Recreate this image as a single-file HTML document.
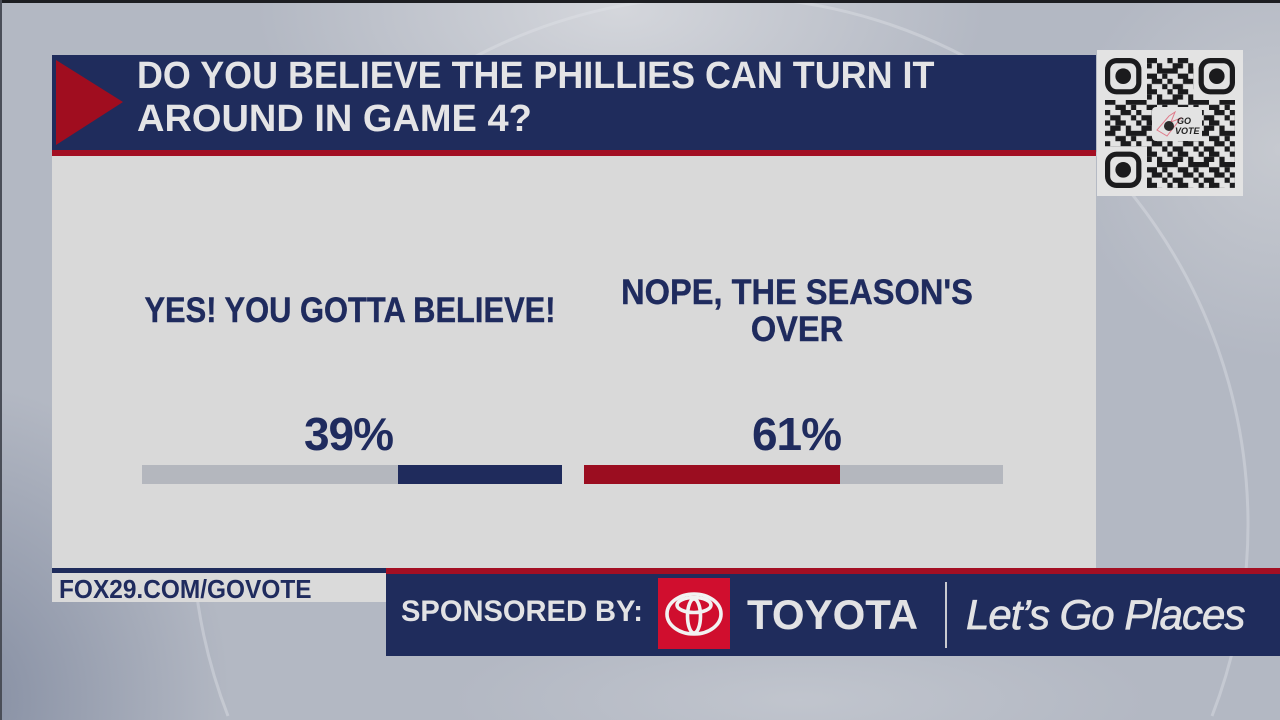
<!DOCTYPE html>
<html><head><meta charset="utf-8">
<style>
*{margin:0;padding:0;box-sizing:border-box}
html,body{width:1280px;height:720px;overflow:hidden}
body{position:relative;font-family:"Liberation Sans",Arial,sans-serif;
background:
radial-gradient(ellipse 520px 260px at 620px 10px, rgba(214,216,221,0.95), rgba(214,216,221,0) 70%),
radial-gradient(ellipse 360px 420px at -40px 700px, rgba(130,139,160,0.95), rgba(130,139,160,0) 75%),
radial-gradient(ellipse 300px 300px at 1280px 150px, rgba(200,203,209,0.9), rgba(200,203,209,0) 70%),
radial-gradient(ellipse 500px 120px at 800px 700px, rgba(196,200,208,0.8), rgba(196,200,208,0) 70%),
#b3b8c3;}
.abs{position:absolute;white-space:nowrap}
</style></head><body>
<svg class="abs" style="left:0;top:0" width="1280" height="718" viewBox="0 0 1280 718">
<path d="M 228 716 A 528 528 0 1 1 1212 716" fill="none" stroke="rgba(225,227,232,0.4)" stroke-width="3"/>
</svg>
<!-- top and left dark edges -->
<div class="abs" style="left:0;top:0;width:1280px;height:3px;background:#1d1e22"></div>
<div class="abs" style="left:0;top:0;width:2px;height:720px;background:#4a4e58"></div>

<!-- header -->
<div class="abs" style="left:52px;top:55px;width:1044px;height:95px;background:#1f2c5c"></div>
<div class="abs" style="left:52px;top:150px;width:1044px;height:6px;background:#a30f23"></div>
<svg class="abs" style="left:52px;top:55px" width="80" height="95"><polygon points="4,5 71,47 4,90" fill="#a00d1f"/></svg>
<div class="abs" style="left:137px;top:57px;font-size:38px;line-height:38px;font-weight:bold;color:#e4e4e6;transform:scaleX(0.945);transform-origin:left center">DO YOU BELIEVE THE PHILLIES CAN TURN IT</div>
<div class="abs" style="left:137px;top:100px;font-size:38px;line-height:38px;font-weight:bold;color:#e4e4e6;transform-origin:left center">AROUND IN GAME 4?</div>

<!-- panel -->
<div class="abs" style="left:52px;top:156px;width:1044px;height:412px;background:#d9d9d9"></div>

<div class="abs" style="left:99.5px;top:293.4px;width:500px;text-align:center;font-size:35px;line-height:35px;font-weight:bold;color:#1f2b5e;transform:scaleX(0.882);-webkit-text-stroke:0.4px #1f2b5e">YES! YOU GOTTA BELIEVE!</div>
<div class="abs" style="left:547px;top:275.4px;width:500px;text-align:center;font-size:35px;line-height:35px;font-weight:bold;color:#1f2b5e;transform:scaleX(0.931);-webkit-text-stroke:0.4px #1f2b5e">NOPE, THE SEASON'S</div>
<div class="abs" style="left:547px;top:311.9px;width:500px;text-align:center;font-size:35px;line-height:35px;font-weight:bold;color:#1f2b5e;transform:scaleX(0.931);-webkit-text-stroke:0.4px #1f2b5e">OVER</div>

<div class="abs" style="left:248.5px;top:411px;width:200px;text-align:center;font-size:46px;line-height:46px;font-weight:bold;color:#1f2b5e;letter-spacing:-1px">39%</div>
<div class="abs" style="left:696.5px;top:411px;width:200px;text-align:center;font-size:46px;line-height:46px;font-weight:bold;color:#1f2b5e;letter-spacing:-1px">61%</div>

<div class="abs" style="left:142px;top:465px;width:420px;height:19px;background:#b4b7be"></div>
<div class="abs" style="left:398px;top:465px;width:164px;height:19px;background:#1f2b5c"></div>
<div class="abs" style="left:584px;top:465px;width:419px;height:19px;background:#b4b7be"></div>
<div class="abs" style="left:584px;top:465px;width:256px;height:19px;background:#9b0d20"></div>

<!-- QR -->
<svg class="abs" style="left:1097px;top:50px" width="146" height="146" viewBox="0 0 146 146">
<defs>
<pattern id="qp" x="8" y="8" width="31.2" height="31.2" patternUnits="userSpaceOnUse">
<g fill="#1b1b1d">
<rect x="0" y="0" width="5.2" height="5.2"/><rect x="10.4" y="0" width="10.4" height="5.2"/>
<rect x="5.2" y="5.2" width="10.4" height="5.2"/><rect x="20.8" y="5.2" width="5.2" height="5.2"/>
<rect x="0" y="10.4" width="10.4" height="5.2"/><rect x="20.8" y="10.4" width="10.4" height="5.2"/>
<rect x="10.4" y="15.6" width="10.4" height="5.2"/><rect x="26" y="15.6" width="5.2" height="5.2"/>
<rect x="0" y="20.8" width="5.2" height="5.2"/><rect x="15.6" y="20.8" width="10.4" height="5.2"/>
<rect x="5.2" y="26" width="10.4" height="5.2"/><rect x="26" y="26" width="5.2" height="5.2"/>
</g>
</pattern>
</defs>
<rect x="0" y="0" width="146" height="146" fill="#e3e3e3"/>
<rect x="8" y="8" width="130" height="130" fill="url(#qp)"/>
<g fill="#e3e3e3">
<rect x="4" y="4" width="46" height="46"/>
<rect x="96.4" y="4" width="46" height="46"/>
<rect x="4" y="96.4" width="46" height="46"/>
<rect x="55" y="57" width="50" height="34" rx="4"/>
</g>
<g fill="none" stroke="#1b1b1d" stroke-width="5.2">
<rect x="10.6" y="10.6" width="31.2" height="31.2" rx="9"/>
<rect x="104.2" y="10.6" width="31.2" height="31.2" rx="9"/>
<rect x="10.6" y="104.2" width="31.2" height="31.2" rx="9"/>
</g>
<g fill="#1b1b1d">
<circle cx="26.2" cy="26.2" r="7.8"/>
<circle cx="119.8" cy="26.2" r="7.8"/>
<circle cx="26.2" cy="119.8" r="7.8"/>
</g>
<polygon points="60,80 72,66 78,62 74,72 84,68 70,86" fill="none" stroke="#e07a8a" stroke-width="1"/>
<circle cx="72" cy="76" r="5" fill="#2a2a2a"/>
<text x="80" y="74" font-family="Liberation Sans" font-weight="bold" font-style="italic" font-size="9" fill="#222">GO</text>
<text x="78" y="84" font-family="Liberation Sans" font-weight="bold" font-style="italic" font-size="9" fill="#222">VOTE</text>
</svg>

<!-- bottom bars -->
<div class="abs" style="left:52px;top:568px;width:334px;height:5px;background:#1f2c5c"></div>
<div class="abs" style="left:386px;top:568px;width:894px;height:6px;background:#a30f23"></div>
<div class="abs" style="left:52px;top:573px;width:334px;height:29px;background:#dadada"></div>
<div class="abs" style="left:59px;top:576px;font-size:26px;line-height:26px;font-weight:bold;color:#1f2b5e;transform:scaleX(0.94);transform-origin:left center">FOX29.COM/GOVOTE</div>

<div class="abs" style="left:386px;top:574px;width:894px;height:82px;background:#1f2c5c"></div>
<div class="abs" style="left:401px;top:596.6px;font-size:30px;line-height:30px;font-weight:bold;color:#e2e2e4;transform:scaleX(0.97);transform-origin:left center">SPONSORED BY:</div>
<div class="abs" style="left:658px;top:578px;width:72px;height:71px;background:#d00e2e"></div>
<svg class="abs" style="left:658px;top:578px" width="72" height="71" viewBox="0 0 72 71">
<g fill="none" stroke="#f2f2f2" stroke-width="3.6">
<ellipse cx="36" cy="36" rx="27" ry="20"/>
<ellipse cx="36" cy="27" rx="17" ry="7.5"/>
<ellipse cx="36" cy="38" rx="6.5" ry="17"/>
</g>
</svg>
<div class="abs" style="left:747px;top:594.4px;font-size:42px;line-height:42px;font-weight:bold;color:#e2e2e4">TOYOTA</div>
<div class="abs" style="left:945px;top:582px;width:2px;height:66px;background:#c9cad0"></div>
<div class="abs" style="left:966px;top:594.4px;font-size:42px;line-height:42px;font-style:italic;color:#e2e2e4;letter-spacing:-1px;-webkit-text-stroke:0.7px #e2e2e4">Let’s Go Places</div>
</body></html>
